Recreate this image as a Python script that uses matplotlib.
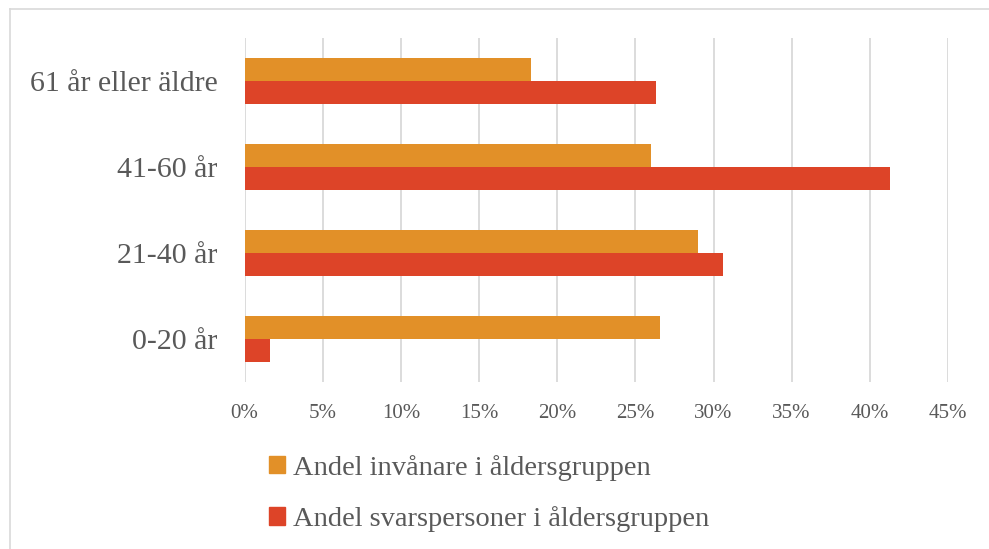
import matplotlib

matplotlib.use("Agg")

import matplotlib.pyplot as plt
import numpy as np
from matplotlib.lines import Line2D
from matplotlib.patches import Patch

W, H = 989, 549

categories = ["0-20 år", "21-40 år", "41-60 år", "61 år eller äldre"]
invanare = [26.6, 29.0, 26.0, 18.3]
svarspersoner = [1.6, 30.6, 41.3, 26.3]
series_names = ["Andel invånare i åldersgruppen", "Andel svarspersoner i åldersgruppen"]
xticks = list(range(0, 50, 5))

ORANGE = "#E29028"
RED = "#DD4428"
GRID = "#D9D9D9"
TEXT = "#595959"

plt.rcParams["font.family"] = ["Liberation Serif", "DejaVu Serif"]

fig = plt.figure(figsize=(W / 100, H / 100), dpi=100)
ax = fig.add_axes([244.5 / W, (H - 382) / H, (948 - 244.5) / W, (382 - 38) / H])

y = np.arange(len(categories))
h = 0.262
ax.barh(y + h / 2, invanare, height=h, color=ORANGE, label=series_names[0], zorder=3)
ax.barh(y - h / 2, svarspersoner, height=h, color=RED, label=series_names[1], zorder=3)

ax.set_xlim(0, 45)
ax.set_ylim(-0.5, len(categories) - 0.5)
ax.set_xticks(xticks)
ax.set_xticklabels([f"{t}%" for t in xticks], fontsize=15, color=TEXT)
ax.set_yticks(y)
ax.set_yticklabels(categories, fontsize=21.5, color=TEXT)
ax.tick_params(length=0)
ax.tick_params(axis="x", pad=16)
ax.tick_params(axis="y", pad=19.5)
ax.grid(axis="x", color=GRID, linewidth=1.3, zorder=0)
for s in ax.spines.values():
    s.set_visible(False)

handles = [Patch(color=ORANGE), Patch(color=RED)]
fig.legend(
    handles,
    series_names,
    loc="upper left",
    bbox_to_anchor=(243 / W, (H - 429) / H),
    frameon=False,
    fontsize=20.5,
    handlelength=0.56,
    handleheight=0.56,
    handletextpad=0.28,
    labelspacing=0.9,
    labelcolor=TEXT,
)

# light frame around the chart area (only top and left edges visible)
fig.add_artist(Line2D([10 / W, 1], [(H - 9) / H] * 2, color=GRID, lw=1.2))
fig.add_artist(Line2D([10 / W] * 2, [0, (H - 9) / H], color=GRID, lw=1.2))

fig.savefig("out.png", dpi=100)
